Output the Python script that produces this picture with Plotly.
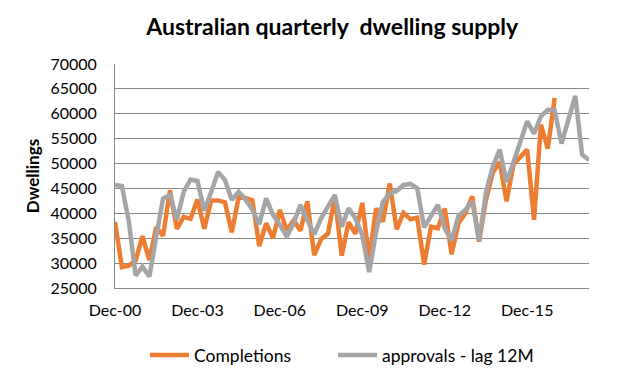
import plotly.graph_objects as go
import pandas as pd

# Quarterly categories Dec-00 .. Mar-18
quarters = [p.strftime("%b-%y") for p in pd.period_range("2000-12", "2018-03", freq="3M")]

completions = [
    38300, 29200, 29500, 30500, 35400, 30600, 37200, 35500, 44600, 36900,
    39300, 38900, 42800, 36900, 42600, 42600, 42200, 36200, 43200, 43100,
    42600, 33400, 38000, 35000, 40700, 36600, 38600, 36500, 42400, 31600,
    34800, 35900, 43300, 31500, 38200, 35900, 42100, 30700, 41000, 38300,
    46000, 36800, 40100, 38800, 39100, 29700, 37300, 37000, 41000, 31800,
    38000, 40000, 43400, 34300, 42700, 48200, 50300, 42400, 49800, 51300,
    52800, 38700, 57800, 53000, 63200,
]

approvals_lag12m = [
    45700, 45500, 38500, 27500, 29300, 27300, 35300, 43000, 43700, 38700,
    44300, 46800, 46500, 40500, 44300, 48300, 46700, 42700, 44300, 42800,
    40700, 37800, 43000, 39700, 37700, 35300, 38000, 41700, 38700, 35800,
    39000, 41300, 43700, 37300, 41000, 39000, 35600, 28200, 36200, 42300,
    44000, 44500, 45700, 45900, 45000, 37200, 39600, 41700, 37000, 34500,
    39500, 40700, 42400, 34500, 44200, 49400, 52800, 46300, 50200, 54600,
    58500, 56000, 59500, 60800, 60700, 54000, 59000, 63600, 51800, 50700,
]

tick_labels = ["Dec-00", "Dec-03", "Dec-06", "Dec-09", "Dec-12", "Dec-15"]

FONT = "Lato"

fig = go.Figure()
fig.add_trace(go.Scatter(
    x=quarters[:len(completions)], y=completions, name="Completions",
    mode="lines", line=dict(color="#ED7D31", width=4.5), legend="legend",
))
fig.add_trace(go.Scatter(
    x=quarters[:len(approvals_lag12m)], y=approvals_lag12m, name="approvals - lag 12M",
    mode="lines", line=dict(color="#A5A5A5", width=4.5), legend="legend2",
))

legend_style = dict(
    orientation="h", xref="container", yref="container", xanchor="left",
    y=29 / 384, yanchor="middle",
    font=dict(family=FONT, size=17.5, color="#000000"),
    bgcolor="rgba(0,0,0,0)", itemwidth=39,
)

fig.update_layout(
    width=621, height=384,
    margin=dict(l=115, r=32, t=64, b=96),
    paper_bgcolor="white", plot_bgcolor="white",
    font=dict(family=FONT, size=16, color="#000000"),
    title=dict(
        text="<b>Australian quarterly  dwelling supply</b>",
        x=0.535, xanchor="center", y=0.93, yanchor="middle",
        font=dict(family=FONT, size=23, color="#000000"),
    ),
    showlegend=True,
    legend=dict(legend_style, x=145 / 621),
    legend2=dict(legend_style, x=333 / 621),
)

fig.update_xaxes(
    type="category", categoryorder="array", categoryarray=quarters,
    range=[0, len(quarters) - 1],
    tickmode="array", tickvals=tick_labels, ticktext=tick_labels,
    showgrid=False, showline=True, linecolor="#888888", linewidth=1,
    ticks="outside", ticklen=8, tickcolor="rgba(0,0,0,0)",
    tickfont=dict(family=FONT, size=16, color="#000000"),
    zeroline=False,
)
fig.update_yaxes(
    range=[25000, 70000], dtick=5000, tick0=25000, tickformat="d",
    showgrid=True, gridcolor="#888888", gridwidth=1,
    showline=True, linecolor="#888888", linewidth=1,
    ticks="outside", ticklen=14, tickcolor="rgba(0,0,0,0)",
    tickfont=dict(family=FONT, size=16, color="#000000"),
    title=dict(text="<b>Dwellings</b>", font=dict(family=FONT, size=17, color="#000000"), standoff=6),
    zeroline=False,
)

fig.write_html(
    "out.html",
    config={"displayModeBar": False},
    post_script="document.body.style.margin='0';",
)
